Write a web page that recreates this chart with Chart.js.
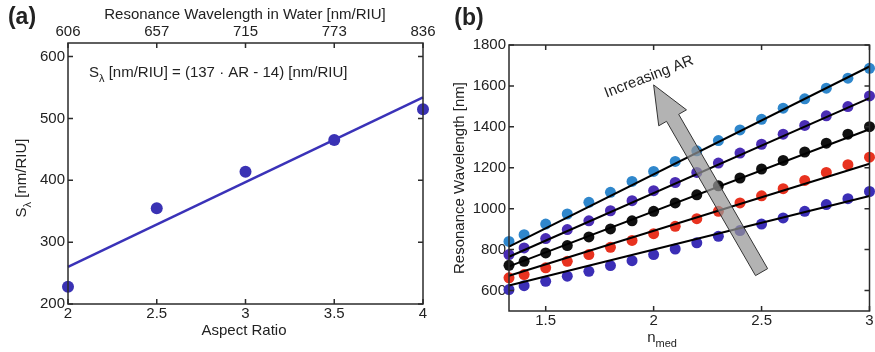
<!DOCTYPE html>
<html>
<head>
<meta charset="utf-8">
<script src="https://cdn.jsdelivr.net/npm/chart.js@4.4.1/dist/chart.umd.min.js"></script>
<style>
  html, body { margin: 0; padding: 0; background: #fff; }
  #wrap { position: relative; width: 875px; height: 352px; overflow: hidden; }
  canvas { position: absolute; top: 0; }
  #panelA { left: 0; }
  #panelB { left: 440px; }
</style>
</head>
<body>
<div id="wrap">
  <canvas id="panelA" width="440" height="352"></canvas>
  <canvas id="panelB" width="435" height="352"></canvas>
</div>
<script>
// ---- panel (a): sensitivity vs aspect ratio ----
const aspectRatio = [2, 2.5, 3, 3.5, 4];
const sensitivity = [228, 355, 414, 465, 515];
const waterWavelength = ['606', '657', '715', '773', '836'];
const sensTicks = [200, 300, 400, 500, 600];
const fitSlope = 137;
const fitIntercept = -14;

// ---- panel (b): resonance wavelength vs medium index ----
const nMed = [1.33, 1.4, 1.5, 1.6, 1.7, 1.8, 1.9, 2.0, 2.1, 2.2, 2.3, 2.4, 2.5, 2.6, 2.7, 2.8, 2.9, 3.0];
const resAR1 = [840, 873, 925, 974, 1031, 1080, 1133, 1182, 1231, 1283, 1333, 1385, 1437, 1491, 1537, 1589, 1638, 1686];
const resAR2 = [776, 808, 854, 898, 941, 990, 1039, 1088, 1128, 1177, 1223, 1272, 1315, 1364, 1407, 1454, 1499, 1551];
const resAR3 = [723, 743, 784, 820, 862, 901, 941, 987, 1028, 1068, 1112, 1150, 1194, 1236, 1277, 1320, 1364, 1401];
const resAR4 = [662, 678, 711, 743, 776, 811, 845, 878, 914, 951, 987, 1028, 1063, 1098, 1138, 1177, 1215, 1252];
const resAR5 = [605, 624, 645, 670, 694, 722, 746, 776, 803, 833, 865, 893, 925, 955, 987, 1020, 1049, 1084];
const fitStart = [815, 765, 718, 672, 625];
const fitEnd = [1695, 1540, 1388, 1220, 1062];
const nTicks = [1.5, 2, 2.5, 3];
const resTicks = [600, 800, 1000, 1200, 1400, 1600, 1800];
const arrowTail = [2.5, 690];
const arrowTip = [2.0, 1605];

const FONT = '"Liberation Sans", Arial, Helvetica, sans-serif';
const TEXT = '#222';
const AXIS = '#2b2b2b';
const seriesColors = ['#2f87cc', '#4a2db4', '#111111', '#e8321f', '#3b2eb6'];

function font(size, bold) {
  return (bold ? 'bold ' : '') + size + 'px ' + FONT;
}

// text with optional subscript pieces, centred (or left aligned) on x,y
function drawRich(ctx, l) {
  const size = l.size || 15;
  ctx.save();
  ctx.translate(l.x, l.y);
  ctx.rotate((l.angle || 0) * Math.PI / 180);
  ctx.fillStyle = TEXT;
  ctx.textBaseline = 'middle';
  ctx.textAlign = 'left';
  const widths = l.parts.map(p => {
    ctx.font = font(p.sub ? Math.round(size * 0.72) : size, l.bold);
    return ctx.measureText(p.t).width;
  });
  let cx = l.align === 'left' ? 0 : -widths.reduce((s, w) => s + w, 0) / 2;
  l.parts.forEach((p, i) => {
    ctx.font = font(p.sub ? Math.round(size * 0.72) : size, l.bold);
    ctx.fillText(p.t, cx, p.sub ? size * 0.38 : 0);
    cx += widths[i];
  });
  ctx.restore();
}

// box around the plot, inward ticks on all four sides, and the free text
function framePlugin(labels, extra) {
  return {
    id: 'frame',
    afterDatasetsDraw(chart) {
      if (extra) extra(chart);
    },
    afterDraw(chart) {
      const { ctx, chartArea: a } = chart;
      const xs = chart.scales.x, ys = chart.scales.y;
      ctx.save();
      ctx.strokeStyle = AXIS;
      ctx.lineWidth = 1.5;
      ctx.beginPath();
      xs.ticks.forEach(t => {
        const px = xs.getPixelForValue(t.value);
        ctx.moveTo(px, a.bottom); ctx.lineTo(px, a.bottom - 5);
        ctx.moveTo(px, a.top); ctx.lineTo(px, a.top + 5);
      });
      ys.ticks.forEach(t => {
        const py = ys.getPixelForValue(t.value);
        ctx.moveTo(a.left, py); ctx.lineTo(a.left + 5, py);
        ctx.moveTo(a.right, py); ctx.lineTo(a.right - 5, py);
      });
      ctx.stroke();
      ctx.strokeRect(a.left, a.top, a.right - a.left, a.bottom - a.top);
      ctx.restore();
      labels.forEach(l => drawRich(ctx, l));
    }
  };
}

function fixedTicks(values) {
  return scale => { scale.ticks = values.map(v => ({ value: v })); };
}

const plain = v => String(v);
const tickStyle = { font: { family: FONT, size: 15 }, color: TEXT, callback: plain };

// ---------- panel (a) ----------
const arPoints = aspectRatio.map((x, i) => ({ x, y: sensitivity[i] }));
const arFit = [aspectRatio[0], aspectRatio[aspectRatio.length - 1]]
  .map(x => ({ x, y: fitSlope * x + fitIntercept }));

new Chart(document.getElementById('panelA'), {
  type: 'scatter',
  data: {
    datasets: [
      {
        data: arFit, showLine: true, borderColor: '#3a32b8', borderWidth: 2.5,
        pointRadius: 0, clip: false
      },
      {
        data: arPoints, backgroundColor: '#3a32b4', borderColor: '#3a32b4',
        pointRadius: 6, borderWidth: 0, clip: false
      }
    ]
  },
  options: {
    responsive: false,
    animation: false,
    layout: { padding: { left: 0, right: 17, top: 0, bottom: 0 } },
    plugins: { legend: { display: false }, tooltip: { enabled: false } },
    scales: {
      x: {
        type: 'linear', position: 'bottom', min: 2, max: 4,
        afterBuildTicks: fixedTicks(aspectRatio),
        afterFit: s => { s.height = 48; },
        grid: { display: false, drawTicks: false }, border: { display: false },
        ticks: { ...tickStyle, padding: 1, maxRotation: 0 }
      },
      x2: {
        type: 'linear', position: 'top', min: 2, max: 4,
        afterBuildTicks: fixedTicks(aspectRatio),
        afterFit: s => { s.height = 43; },
        grid: { display: false, drawTicks: false }, border: { display: false },
        ticks: { ...tickStyle, padding: 2, maxRotation: 0,
          callback: (v, i) => waterWavelength[i] }
      },
      y: {
        min: 200, max: 622,
        afterBuildTicks: fixedTicks(sensTicks),
        afterFit: s => { s.width = 68; },
        grid: { display: false, drawTicks: false }, border: { display: false },
        ticks: { ...tickStyle, padding: 3 }
      }
    }
  },
  plugins: [framePlugin([
    { parts: [{ t: '(a)' }], x: 22, y: 18, size: 23, bold: true },
    { parts: [{ t: 'Resonance Wavelength in Water [nm/RIU]' }], x: 245, y: 15 },
    { parts: [{ t: 'S' }, { t: 'λ', sub: true }, { t: ' [nm/RIU] = (137 · AR - 14) [nm/RIU]' }],
      x: 89, y: 73, align: 'left' },
    { parts: [{ t: 'S' }, { t: 'λ', sub: true }, { t: ' [nm/RIU]' }], x: 22, y: 178, angle: -90 },
    { parts: [{ t: 'Aspect Ratio' }], x: 244, y: 331 }
  ])]
});

// ---------- panel (b) ----------
const resSeries = [resAR1, resAR2, resAR3, resAR4, resAR5];
const nFirst = nMed[0], nLast = nMed[nMed.length - 1];

const fitSets = fitStart.map((y0, i) => ({
  data: [{ x: nFirst, y: y0 }, { x: nLast, y: fitEnd[i] }],
  showLine: true, borderColor: '#000', borderWidth: 2, pointRadius: 0, clip: false
}));
const pointSets = resSeries.map((vals, i) => ({
  data: nMed.map((x, j) => ({ x, y: vals[j] })),
  backgroundColor: seriesColors[i], borderColor: seriesColors[i],
  pointRadius: 5.5, borderWidth: 0, clip: false
}));

// grey "increasing AR" arrow laid over the data
function drawArrow(chart) {
  const { ctx } = chart;
  const xs = chart.scales.x, ys = chart.scales.y;
  const x0 = xs.getPixelForValue(arrowTail[0]), y0 = ys.getPixelForValue(arrowTail[1]);
  const x1 = xs.getPixelForValue(arrowTip[0]), y1 = ys.getPixelForValue(arrowTip[1]);
  const len = Math.hypot(x1 - x0, y1 - y0);
  const ux = (x1 - x0) / len, uy = (y1 - y0) / len;
  const nx = -uy, ny = ux;
  const shaft = 7, head = 16, headLen = 38;
  const bx = x1 - ux * headLen, by = y1 - uy * headLen;
  const pts = [
    [x0 + nx * shaft, y0 + ny * shaft],
    [bx + nx * shaft, by + ny * shaft],
    [bx + nx * head, by + ny * head],
    [x1, y1],
    [bx - nx * head, by - ny * head],
    [bx - nx * shaft, by - ny * shaft],
    [x0 - nx * shaft, y0 - ny * shaft]
  ];
  ctx.save();
  ctx.beginPath();
  pts.forEach((p, i) => (i ? ctx.lineTo(p[0], p[1]) : ctx.moveTo(p[0], p[1])));
  ctx.closePath();
  ctx.fillStyle = 'rgba(150,150,150,0.72)';
  ctx.fill();
  ctx.strokeStyle = '#333';
  ctx.lineWidth = 1;
  ctx.stroke();
  ctx.restore();
}

new Chart(document.getElementById('panelB'), {
  type: 'scatter',
  data: { datasets: fitSets.concat(pointSets) },
  options: {
    responsive: false,
    animation: false,
    layout: { padding: { left: 0, right: 5, top: 45, bottom: 0 } },
    plugins: { legend: { display: false }, tooltip: { enabled: false } },
    scales: {
      x: {
        type: 'linear', position: 'bottom', min: nFirst, max: nLast,
        afterBuildTicks: fixedTicks(nTicks),
        afterFit: s => { s.height = 41; },
        grid: { display: false, drawTicks: false }, border: { display: false },
        ticks: { ...tickStyle, padding: 1, maxRotation: 0 }
      },
      y: {
        min: 500, max: 1800,
        afterBuildTicks: fixedTicks(resTicks),
        afterFit: s => { s.width = 69; },
        grid: { display: false, drawTicks: false }, border: { display: false },
        ticks: { ...tickStyle, padding: 3 }
      }
    }
  },
  plugins: [framePlugin([
    { parts: [{ t: '(b)' }], x: 29, y: 19, size: 23, bold: true },
    { parts: [{ t: 'Resonance Wavelength [nm]' }], x: 20, y: 178, angle: -90 },
    { parts: [{ t: 'n' }, { t: 'med', sub: true }], x: 222, y: 338 },
    { parts: [{ t: 'Increasing AR' }], x: 209, y: 77, angle: -21 }
  ], drawArrow)]
});
</script>
</body>
</html>
